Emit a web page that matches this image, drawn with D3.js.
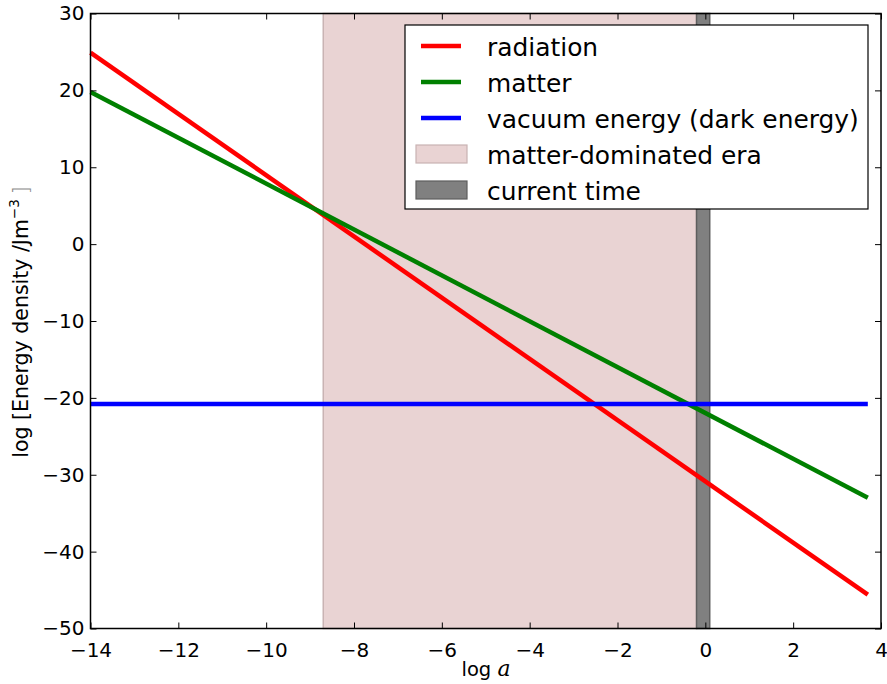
<!DOCTYPE html>
<html><head><meta charset="utf-8">
<script src="https://cdn.jsdelivr.net/npm/d3@7"></script>
<style>body{margin:0;background:#fff}svg{display:block}text{font-family:"DejaVu Sans",sans-serif}</style>
</head><body><svg id="c" width="887" height="684"></svg>
<script>
// ---- data ----
const logA = [-14, 3.7];
const radiation = [24.9, -45.6];
const matter = [19.8, -33.0];
const vacuum = [-20.8, -20.8];
const matterEra = [-8.7, -0.2];
const currentTime = [-0.2, 0.1];
const xTicks = [-14, -12, -10, -8, -6, -4, -2, 0, 2, 4];
const yTicks = [-50, -40, -30, -20, -10, 0, 10, 20, 30];
const seriesNames = ["radiation", "matter", "vacuum energy (dark energy)"];
const seriesColors = ["#ff0000", "#008000", "#0000ff"];
const spanNames = ["matter-dominated era", "current time"];

const svg = d3.select("#c");
const L = 90.5, R = 881, T = 13.5, B = 628.5;
const x = d3.scaleLinear().domain([-14, 4]).range([L, R]);
const y = d3.scaleLinear().domain([-50, 30]).range([B, T]);
const fmt = d => d3.format("d")(d).replace("-", "\u2212");

// spans
svg.append("rect").attr("x", x(matterEra[0])).attr("y", T).attr("width", x(matterEra[1]) - x(matterEra[0])).attr("height", B - T)
  .attr("fill", "#e9d3d3").attr("stroke", "#c9b3b3").attr("stroke-width", 1.5);
svg.append("rect").attr("x", x(currentTime[0])).attr("y", T).attr("width", x(currentTime[1]) - x(currentTime[0])).attr("height", B - T)
  .attr("fill", "#808080").attr("stroke", "#5e5e5e").attr("stroke-width", 1.5);

// lines
const series = [radiation, matter, vacuum];
const line = d3.line().x((d, i) => x(logA[i])).y(d => y(d));
series.forEach((s, k) => {
  svg.append("path").datum(s).attr("d", line).attr("fill", "none")
    .attr("stroke", seriesColors[k]).attr("stroke-width", 4.5);
});

// axes (inward ticks)
const tickLen = 6;
const gb = svg.append("g").attr("transform", `translate(0,${B})`).call(d3.axisBottom(x).tickValues(xTicks).tickFormat(fmt).tickSizeInner(-tickLen).tickSizeOuter(0).tickPadding(14));
const gt = svg.append("g").attr("transform", `translate(0,${T})`).call(d3.axisTop(x).tickValues(xTicks).tickFormat("").tickSizeInner(-tickLen).tickSizeOuter(0));
const gl = svg.append("g").attr("transform", `translate(${L},0)`).call(d3.axisLeft(y).tickValues(yTicks).tickFormat(fmt).tickSizeInner(-tickLen).tickSizeOuter(0).tickPadding(6));
const gr = svg.append("g").attr("transform", `translate(${R},0)`).call(d3.axisRight(y).tickValues(yTicks).tickFormat("").tickSizeInner(-tickLen).tickSizeOuter(0));
[gb, gt, gl, gr].forEach(g => {
  g.select(".domain").remove();
  g.selectAll(".tick line").attr("stroke", "#000").attr("stroke-width", 1);
  g.selectAll(".tick text").attr("font-size", 20).attr("fill", "#000").attr("font-family", "DejaVu Sans");
});
svg.append("rect").attr("x", L).attr("y", T).attr("width", R - L).attr("height", B - T)
  .attr("fill", "none").attr("stroke", "#000").attr("stroke-width", 1.5);

// axis labels
const xl = svg.append("text").attr("x", 486).attr("y", 676).attr("text-anchor", "middle").attr("font-size", 19.5);
xl.append("tspan").text("log ");
xl.append("tspan").attr("font-family", "DejaVu Serif").attr("font-style", "italic").attr("font-size", 22).text("a");

const yl = svg.append("text").attr("transform", `translate(28,322) rotate(-90)`).attr("text-anchor", "middle").attr("font-size", 20.5);
yl.append("tspan").text("log [Energy density /Jm");
yl.append("tspan").attr("font-size", 13.5).attr("dy", -9).text("\u22123");
yl.append("tspan").attr("dy", 9).attr("dx", 5).attr("fill", "#888").attr("font-weight", 300).text("]");

// legend
const lg = svg.append("g");
const lx = 405, ly = 25, lw = 463, lh = 184;
lg.append("rect").attr("x", lx).attr("y", ly).attr("width", lw).attr("height", lh).attr("fill", "#fff").attr("stroke", "#000").attr("stroke-width", 1.2);
const rowY = d3.range(5).map(i => 46 + i * 36);
seriesNames.forEach((n, i) => {
  lg.append("line").attr("x1", 421).attr("x2", 461).attr("y1", rowY[i]).attr("y2", rowY[i]).attr("stroke", seriesColors[i]).attr("stroke-width", 4.5);
  lg.append("text").attr("x", 487).attr("y", rowY[i] + 9.5).attr("font-size", 24.9).text(n);
});
const spanFill = ["#e9d3d3", "#808080"], spanStroke = ["#c9b3b3", "#5e5e5e"];
spanNames.forEach((n, j) => {
  const i = j + 3;
  lg.append("rect").attr("x", 416).attr("y", rowY[i] - 9).attr("width", 51).attr("height", 18).attr("fill", spanFill[j]).attr("stroke", spanStroke[j]).attr("stroke-width", 1.2);
  lg.append("text").attr("x", 487).attr("y", rowY[i] + 9.5).attr("font-size", 24.9).text(n);
});
</script></body></html>
